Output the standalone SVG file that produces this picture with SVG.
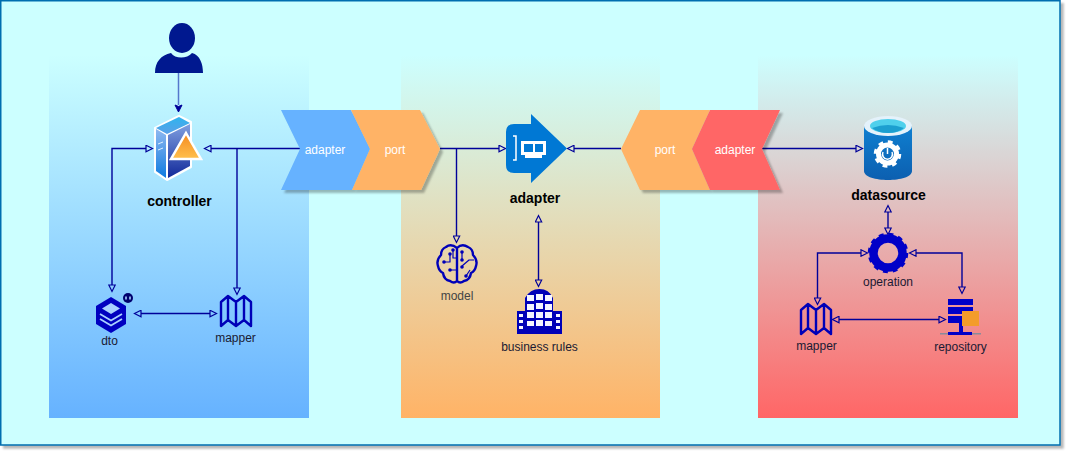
<svg xmlns="http://www.w3.org/2000/svg" width="1073" height="458" viewBox="0 0 1073 458">
<style>
text{font-family:"Liberation Sans",Arial,sans-serif;font-size:12px;text-anchor:middle}
.b{font-weight:bold;font-size:14px;fill:#000}
.w{fill:#fff}
.d{fill:#1a1a33}
.c{fill:none;stroke:#000099;stroke-width:1.400}
.oe{marker-end:url(#open)}
.os{marker-start:url(#openS)}
.m{fill:none;stroke:#0000b8;stroke-width:2.400;stroke-linejoin:round}
.i{fill:#0000b8}
</style>
<defs>
<linearGradient id="gb" x1="0" y1="0" x2="0" y2="1"><stop offset="0" stop-color="#ccffff"/><stop offset="1" stop-color="#66b2ff"/></linearGradient>
<linearGradient id="go" x1="0" y1="0" x2="0" y2="1"><stop offset="0" stop-color="#ccffff"/><stop offset="1" stop-color="#ffb366"/></linearGradient>
<linearGradient id="gr" x1="0" y1="0" x2="0" y2="1"><stop offset="0" stop-color="#ccffff"/><stop offset="1" stop-color="#ff6666"/></linearGradient>
<linearGradient id="sTop" x1="0" y1="0" x2="0" y2="1"><stop offset="0" stop-color="#2fb4ee"/><stop offset="1" stop-color="#5aa0e8"/></linearGradient>
<linearGradient id="sLeft" x1="0" y1="0" x2="0" y2="1"><stop offset="0" stop-color="#8fb8f0"/><stop offset="1" stop-color="#0f7be0"/></linearGradient>
<linearGradient id="sRight" x1="0" y1="0" x2="0" y2="1"><stop offset="0" stop-color="#7f9fe0"/><stop offset="1" stop-color="#12299a"/></linearGradient>
<linearGradient id="tri" x1="0" y1="0" x2="0" y2="1"><stop offset="0" stop-color="#f58a1f"/><stop offset="1" stop-color="#ffc04d"/></linearGradient>
<linearGradient id="cyl" x1="0" y1="0" x2="0" y2="1"><stop offset="0" stop-color="#0f7fd0"/><stop offset="1" stop-color="#0c5fb0"/></linearGradient>
<filter id="sh" x="-5%" y="-5%" width="112%" height="115%"><feDropShadow dx="3" dy="3" stdDeviation="0.8" flood-color="#000" flood-opacity="0.28"/></filter>
<marker id="open" viewBox="-1 -4 9 8" markerWidth="9" markerHeight="8" refX="0" refY="0" orient="auto" markerUnits="userSpaceOnUse"><path d="M0,-3.200 L6.500,0 L0,3.200Z" fill="none" stroke="#000099" stroke-width="1.200"/></marker>
<marker id="openS" viewBox="-8 -4 9 8" markerWidth="9" markerHeight="8" refX="0" refY="0" orient="auto" markerUnits="userSpaceOnUse"><path d="M0,-3.200 L-6.500,0 L0,3.200Z" fill="none" stroke="#000099" stroke-width="1.200"/></marker>
<marker id="fill" viewBox="-1 -5 9 10" markerWidth="9" markerHeight="10" refX="0" refY="0" orient="auto" markerUnits="userSpaceOnUse"><path d="M0,-3.500 L7,0 L0,3.500 L1.500,0Z" fill="#000099" stroke="#000099"/></marker>
<g id="map"><path class="m" d="M1,7 L8,1 L16,7 L24,1 L31,7 L31,31 L24,25 L16,31 L8,25 L1,31Z M8,1 V25 M16,7 V31 M24,1 V25"/></g>
</defs>

<rect id="frame" x="0.750" y="0.750" width="1059.250" height="444.250" fill="#ccffff" stroke="#006eaf" stroke-width="1.500" filter="url(#sh)"/>

<g id="zones">
<rect x="49" y="55" width="260" height="363" fill="url(#gb)"/>
<rect x="401" y="55" width="259" height="363" fill="url(#go)"/>
<rect x="758" y="55" width="260" height="363" fill="url(#gr)"/>
</g>

<g id="connectors">
<path d="M178.500,73 V105" fill="none" stroke="#5577cc" stroke-width="1.500" marker-end="url(#fill)"/>
<path class="c oe" d="M303,148.500 H211"/>
<path class="c oe" d="M237,148.500 V288"/>
<path class="c os oe" d="M112,285 V148.500 H146"/>
<path class="c os oe" d="M141,313.500 H210"/>
<path class="c oe" d="M440,148.500 H499"/>
<path class="c oe" d="M456.500,148.500 V236"/>
<path class="c oe" d="M621,148.500 H574"/>
<path class="c os oe" d="M538.500,222 V280"/>
<path class="c oe" d="M762,148.500 H856"/>
<path class="c os oe" d="M888,212 V228"/>
<path class="c os oe" d="M861,253 H817.500 V298"/>
<path class="c os oe" d="M916,253 H962 V287"/>
<path class="c os oe" d="M839,319.500 H939"/>
</g>

<g id="person">
<ellipse cx="182" cy="38" rx="13" ry="15" fill="#00188f"/>
<path d="M155,73 C155,62 161,55 171,53 C175,59 187,59 192,53 C200,55 203,64 203,73Z" fill="#00188f"/>
</g>

<g id="controller">
<path d="M179,116 L191,122 L191,167 L167,180 L155,172 L155,128Z" fill="#fff" stroke="#fff" stroke-width="2" stroke-linejoin="round"/>
<path d="M179,117 L190,123 L167,134 L156,128Z" fill="url(#sTop)"/>
<path d="M156,129 L166,135 L166,178 L156,171Z" fill="url(#sLeft)"/>
<path d="M168,135 L190,124 L190,166 L168,178Z" fill="url(#sRight)"/>
<path d="M158,144 L163,142 M158,150 L163,148" stroke="#dfefff" stroke-width="1"/>
<path d="M186,133 L201,159 L171,159Z" fill="url(#tri)" stroke="#fff" stroke-width="2.500" stroke-linejoin="miter"/>
<text class="b" x="179.500" y="206">controller</text>
</g>

<g id="dto">
<path d="M111,297 L126,306 L126,324 L111,333 L96,324 L96,306Z" fill="#0000c0"/>
<path d="M111,303 L120,308.500 L111,314 L102,308.500Z" fill="#a8d0ff"/>
<path d="M100,314 L111,320.500 L122,314 M100,319 L111,325.500 L122,319" fill="none" stroke="#a8d0ff" stroke-width="1.800"/>
<circle cx="128" cy="298" r="5" fill="#00006e"/>
<path d="M126,296.500 V299.500 M130,296.500 V299.500" stroke="#a8d0ff" stroke-width="1.600"/>
<text class="d" x="109.500" y="345">dto</text>
</g>

<g id="mapper-left">
<use href="#map" x="220" y="295"/>
<text class="d" x="235.500" y="342">mapper</text>
</g>

<g id="adapter-left" filter="url(#sh)">
<path d="M281,110 H351 L370,149 L352,190 H281 L300,149Z" fill="#66b2ff"/>
</g>
<g id="port-left" filter="url(#sh)">
<path d="M351,110 H420 L440,149 L421,190 H352 L370,149Z" fill="#ffb366"/>
</g>
<g id="port-right" filter="url(#sh)">
<path d="M640,110 H710 L692,149 L710,190 H640 L621,149Z" fill="#ffb366"/>
</g>
<g id="adapter-right" filter="url(#sh)">
<path d="M710,110 H780 L762,149 L780,190 H710 L692,149Z" fill="#ff6666"/>
</g>
<g id="chevron-labels">
<text class="w" x="325" y="154">adapter</text>
<text class="w" x="395" y="154">port</text>
<text class="w" x="665" y="154">port</text>
<text class="w" x="735" y="154">adapter</text>
</g>

<g id="adapter">
<path d="M531,114 L567,148.500 L531,183 V173 H514 Q506,173 506,165 V132 Q506,124 514,124 H531Z" fill="#0078d4"/>
<path d="M513,136 H516 V160 H513" fill="none" stroke="#fff" stroke-width="1.500"/>
<path d="M521,141 H546 V155 H542 V158 H525 V155 H521Z" fill="#fff"/>
<rect x="524" y="144" width="9" height="8" fill="#0078d4"/>
<rect x="535" y="144" width="8" height="8" fill="#0078d4"/>
<text class="b" x="535" y="203">adapter</text>
</g>

<g id="model">
<path class="m" d="M457,248 Q451,243 446,247 Q441,249 441,255 Q436,260 438,266 Q439,271 443,273 Q444,280 450,281 Q454,284 457,281 V248 Q462,243 468,247 Q473,249 473,255 Q478,260 476,266 Q475,271 471,273 Q470,280 464,281 Q460,284 457,281" stroke-width="1.800"/>
<path class="m" style="stroke-width:1.200" d="M444,262 H450 V255 M450,270 H457 M453,250 V258 H457 M462,252 V259 M462,266 L469,260 H474 M466,276 L470,270"/>
<g class="i"><circle cx="450" cy="254" r="1.800"/><circle cx="450" cy="270" r="1.800"/><circle cx="453" cy="250" r="1.800"/><circle cx="462" cy="252" r="1.800"/><circle cx="462" cy="260" r="1.800"/><circle cx="462" cy="267" r="1.800"/><circle cx="466" cy="276" r="1.800"/><circle cx="444" cy="262" r="1.800"/></g>
<text x="457" y="300" fill="#444">model</text>
</g>

<g id="business-rules">
<path class="i" d="M525,298 Q530,289 539.500,289 Q549,289 553,298 V311 H562 V334 H517 V311 H525Z"/>
<g fill="#f4f4ff">
<rect x="527" y="295" width="7" height="6"/><rect x="536" y="294" width="7" height="6"/><rect x="545" y="295" width="7" height="6"/>
<rect x="527" y="304" width="7" height="6"/><rect x="536" y="303" width="7" height="6"/><rect x="545" y="304" width="7" height="6"/>
<rect x="527" y="312" width="7" height="6"/><rect x="536" y="312" width="7" height="6"/><rect x="545" y="312" width="7" height="6"/>
<rect x="527" y="321" width="7" height="5"/><rect x="536" y="320" width="7" height="6"/><rect x="545" y="321" width="7" height="5"/>
<rect x="519" y="314" width="4" height="3"/><rect x="519" y="320" width="4" height="3"/><rect x="519" y="326" width="4" height="3"/>
<rect x="556" y="314" width="4" height="3"/><rect x="556" y="320" width="4" height="3"/><rect x="556" y="326" width="4" height="3"/>
</g>
<text class="d" x="539.500" y="351">business rules</text>
</g>

<g id="datasource">
<path d="M864,126 V171 C864,183 912,183 912,171 V126Z" fill="url(#cyl)"/>
<ellipse cx="888" cy="126" rx="24" ry="10" fill="#e4f2fb"/>
<ellipse cx="888" cy="126" rx="18" ry="7" fill="#4fd0ec"/>
<path d="M872,128 Q888,122 904,128 Q898,133 888,133 Q878,133 872,128Z" fill="#1c9fd0"/>
<circle cx="887.500" cy="154" r="9" fill="none" stroke="#fff" stroke-width="5"/>
<circle cx="887.500" cy="154" r="12" fill="none" stroke="#fff" stroke-width="3.500" stroke-dasharray="4.700 4.720"/>
<path d="M883,152 A5,5 0 1 0 892,152 M887.500,148 V154" fill="none" stroke="#fff" stroke-width="1.500"/>
<text class="b" x="888.500" y="200">datasource</text>
</g>

<g id="operation">
<circle cx="888" cy="253" r="14.500" fill="none" stroke="#0000c8" stroke-width="8.500"/>
<circle cx="888" cy="253" r="18" fill="none" stroke="#0000c8" stroke-width="4.500" stroke-dasharray="4.700 4.720"/>
<text class="d" x="888" y="286">operation</text>
</g>

<g id="mapper-right">
<use href="#map" x="800" y="303"/>
<text class="d" x="816.500" y="350">mapper</text>
</g>

<g id="repository">
<rect x="948" y="299" width="25" height="6" fill="#0000c8"/>
<rect x="948" y="307" width="25" height="7" fill="#0000c8"/>
<rect x="948" y="316" width="25" height="7" fill="#0000c8"/>
<rect x="959" y="323" width="4" height="10" fill="#0000c8"/>
<rect x="940" y="333" width="41" height="1.500" fill="#8a8a9a"/>
<rect x="948" y="332" width="24" height="3" fill="#0000c8"/>
<rect x="962" y="311" width="17" height="15" fill="#f39c2b"/>
<text class="d" x="960.500" y="351">repository</text>
</g>
</svg>
